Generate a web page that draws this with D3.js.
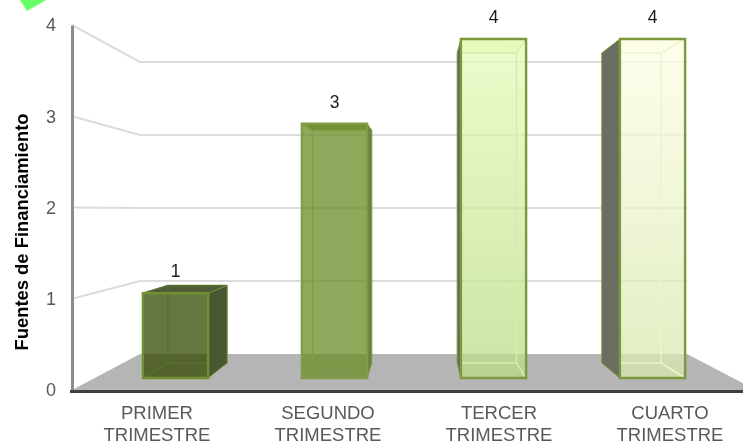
<!DOCTYPE html>
<html>
<head>
<meta charset="utf-8">
<script src="https://cdn.jsdelivr.net/npm/d3@7"></script>
<style>
  html, body { margin: 0; padding: 0; background: #fff; }
  svg { display: block; font-family: "Liberation Sans", Arial, sans-serif; }
</style>
</head>
<body>
<svg id="chart" width="743" height="443"></svg>
<script>
const categories = [["PRIMER", "TRIMESTRE"], ["SEGUNDO", "TRIMESTRE"], ["TERCER", "TRIMESTRE"], ["CUARTO", "TRIMESTRE"]];
const values = [1, 3, 4, 4];
const yTicks = [0, 1, 2, 3, 4];

const frontColors = ["#334800", "#6a8c24", "#e6fbba", "#fefee6"];
const frontLowColors = ["#334800", "#6a8c24", "#bcdb87", "#d7e8af"];
const outerColors = ["#4a5632", "#6a8340", "#626b56", "#6b6e60"];
const topColors = ["#4f5b36", "#8ba656", "#ebfbc9", "#fdfeea"];
const innerColors = ["#5a6e2e", "#7f9c47", "#d6ecac", "#eaf5cc"];
const edgeColors = ["#6f9030", "#7f9c47", "#7a9a3c", "#7a9a3c"];

const svg = d3.select("#chart");
const width = 743, height = 443;

const defs = svg.append("defs");
defs.append("filter").attr("id", "soft")
  .attr("x", 0).attr("y", 0).attr("width", 1).attr("height", 1)
  .append("feGaussianBlur").attr("stdDeviation", 0.45);
frontColors.forEach((c, i) => {
  const grad = defs.append("linearGradient").attr("id", "front" + i)
    .attr("x1", 0).attr("y1", 0).attr("x2", 0).attr("y2", 1);
  grad.append("stop").attr("offset", 0).attr("stop-color", c);
  grad.append("stop").attr("offset", 1).attr("stop-color", frontLowColors[i]);
});

const root = svg.append("g").attr("filter", "url(#soft)");
root.append("rect").attr("width", width).attr("height", height).attr("fill", "#fff");

// y scales, one per depth plane of the fake 3d box
const yWall = d3.scaleLinear().domain([0, 4]).range([390, 25]);
const yBack = d3.scaleLinear().domain([0, 4]).range([354, 62]);
const yBarFront = d3.scaleLinear().domain([0, 4]).range([378, 39]);
const yBarBack = d3.scaleLinear().domain([0, 4]).range([363, 53]);

// bars are laid out on their front plane, back plane is a linear shrink of it
const idx = categories.map((d, i) => i);
const x = d3.scaleBand().domain(idx).range([96, 732]).paddingInner(0.59).paddingOuter(0.295);
const xBarBack = d3.scaleLinear().domain([143, 685]).range([168, 661]);
const xLabel = d3.scaleBand().domain(idx).range([71.5, 755.5]);

const wallLeft = 72, wallRight = 756, backLeft = 140, backRight = 687;
const line = d3.line();

// floor
root.append("path")
  .attr("d", line([[wallLeft, yWall(0)], [backLeft, yBack(0)], [backRight, yBack(0)], [wallRight, yWall(0)]]) + "Z")
  .attr("fill", "#b5b5b5");

// grid runs along the side wall, then across the back wall
root.append("g").selectAll("path")
  .data(yTicks.filter(d => d > 0))
  .enter().append("path")
  .attr("d", d => line([[wallLeft, yWall(d)], [backLeft, yBack(d)], [backRight, yBack(d)]]))
  .attr("fill", "none")
  .attr("stroke", "#dcdcdc")
  .attr("stroke-width", 2);

// bars
const bars = root.append("g").selectAll("g")
  .data(values)
  .enter().append("g");

bars.each(function (v, i) {
  const g = d3.select(this);
  const x0 = x(i), x1 = x(i) + x.bandwidth();
  const bx0 = xBarBack(x0), bx1 = xBarBack(x1);
  const fTop = yBarFront(v), fBot = yBarFront(0), bTop = yBarBack(v), bBot = yBarBack(0);

  const leftFace = [[x0, fTop], [bx0, bTop], [bx0, bBot], [x0, fBot]];
  const rightFace = [[x1, fTop], [bx1, bTop], [bx1, bBot], [x1, fBot]];
  const topFace = [[x0, fTop], [bx0, bTop], [bx1, bTop], [x1, fTop]];
  const frontFace = [[x0, fTop], [x1, fTop], [x1, fBot], [x0, fBot]];
  const rightIsOuter = bx1 > x1;
  const outerFace = rightIsOuter ? rightFace : leftFace;

  g.append("path").attr("d", line(topFace) + "Z").attr("fill", topColors[i]);
  g.append("path").attr("d", line(frontFace) + "Z")
    .attr("fill", `url(#front${i})`).attr("fill-opacity", 0.75);

  // inner edges seen through the glass front
  const inner = [
    [[bx0, bTop], [bx1, bTop]],
    [[bx0, bBot], [bx1, bBot]],
    rightIsOuter ? [[bx0, bTop], [bx0, bBot]] : [[bx1, bTop], [bx1, bBot]],
    rightIsOuter ? [[x0, fBot], [bx0, bBot]] : [[x1, fBot], [bx1, bBot]],
    rightIsOuter ? [[x0, fTop], [bx0, bTop]] : [[x1, fTop], [bx1, bTop]]
  ];
  g.selectAll("path.inner").data(inner).enter().append("path")
    .attr("class", "inner")
    .attr("d", d => line(d))
    .attr("fill", "none")
    .attr("stroke", innerColors[i])
    .attr("stroke-width", 1.5);

  g.append("path").attr("d", line(outerFace) + "Z")
    .attr("fill", outerColors[i]).attr("stroke", edgeColors[i]).attr("stroke-width", 1);
  g.append("path").attr("d", line(frontFace) + "Z")
    .attr("fill", "none").attr("stroke", edgeColors[i]).attr("stroke-width", 2.4);

  g.append("text")
    .attr("x", x0 + x.bandwidth() / 2)
    .attr("y", fTop - 16)
    .attr("text-anchor", "middle")
    .attr("font-size", 17.5)
    .attr("fill", "#1a1a1a")
    .text(v);
});

// axes
const yAxis = root.append("g")
  .attr("transform", `translate(${wallLeft},0)`)
  .call(d3.axisLeft(yWall).tickValues(yTicks).tickSize(0).tickPadding(16).tickFormat(d3.format("d")));
yAxis.select(".domain").attr("stroke", "#8c8c8c").attr("stroke-width", 3);
yAxis.selectAll("text")
  .attr("font-family", "Liberation Sans")
  .attr("font-size", 18)
  .attr("fill", "#595959");

root.append("line")
  .attr("x1", 70).attr("x2", width)
  .attr("y1", yWall(0) + 1.5).attr("y2", yWall(0) + 1.5)
  .attr("stroke", "#404040")
  .attr("stroke-width", 3);

const labels = root.append("g").selectAll("text")
  .data(categories)
  .enter().append("text")
  .attr("text-anchor", "middle")
  .attr("font-size", 18.5)
  .attr("fill", "#595959");
labels.selectAll("tspan")
  .data((d, i) => d.map((t, j) => ({ t, j, i })))
  .enter().append("tspan")
  .attr("x", d => xLabel(d.i) + xLabel.bandwidth() / 2)
  .attr("y", d => 419 + d.j * 21.5)
  .text(d => d.t);

root.append("text")
  .attr("transform", "translate(28,232) rotate(-90)")
  .attr("text-anchor", "middle")
  .attr("font-size", 18.4)
  .attr("font-weight", "bold")
  .attr("fill", "#000")
  .text("Fuentes de Financiamiento");

// green corner left over in the source image
root.append("path")
  .attr("d", line([[20, 0], [27, 11], [46, 0]]) + "Z")
  .attr("fill", "#66ff66");
</script>
</body>
</html>
